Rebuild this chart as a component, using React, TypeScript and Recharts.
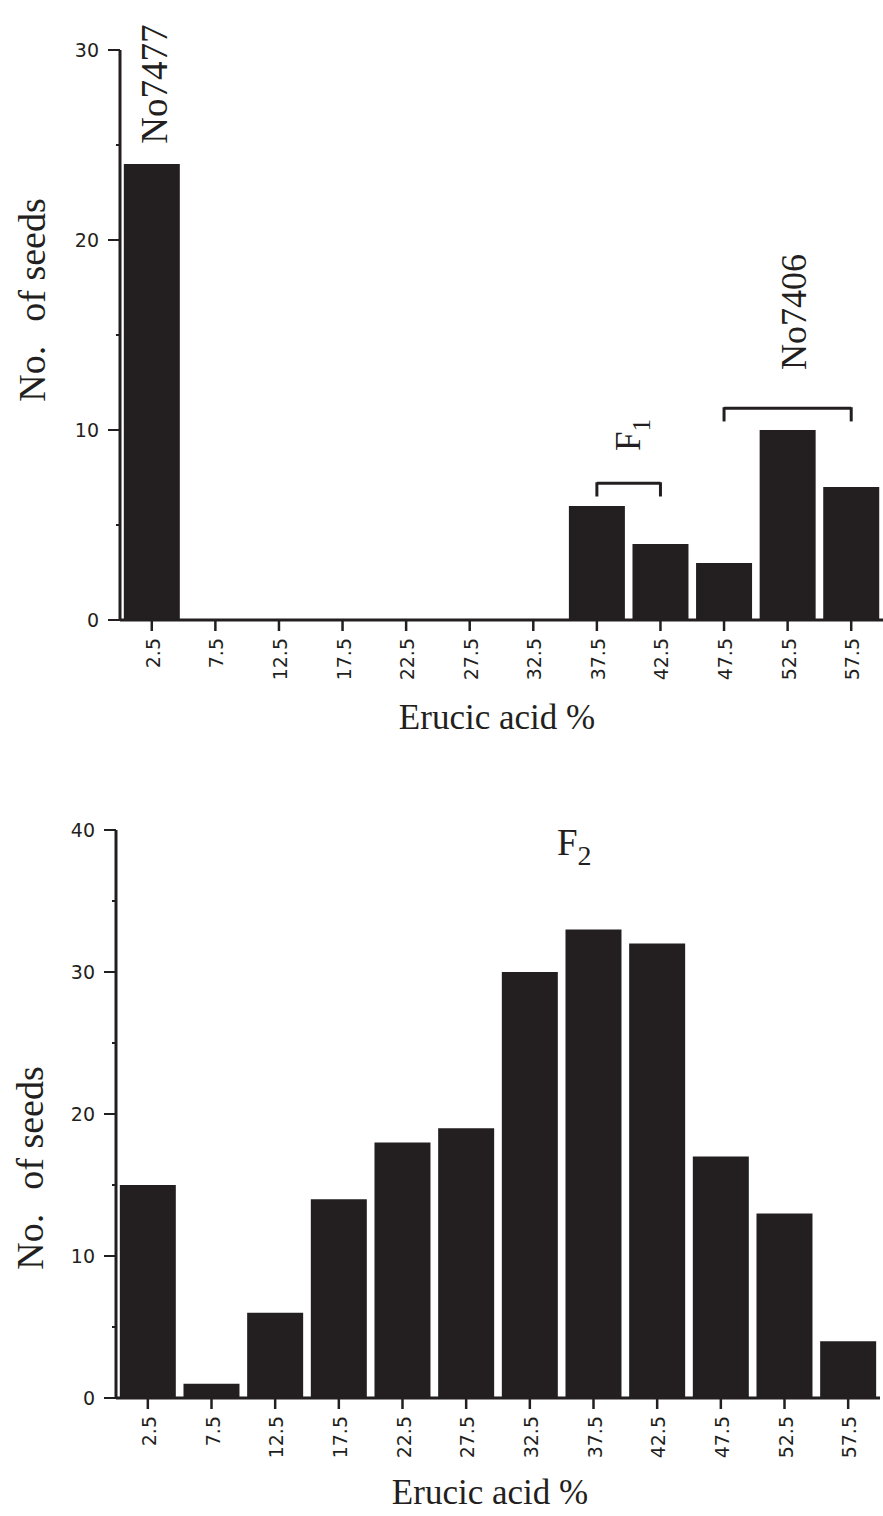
import { BarChart, Bar, XAxis, YAxis, ReferenceLine, Customized } from "recharts"

const bins = ["2.5", "7.5", "12.5", "17.5", "22.5", "27.5", "32.5", "37.5", "42.5", "47.5", "52.5", "57.5"]
const parentSeeds = [24, 0, 0, 0, 0, 0, 0, 6, 4, 3, 10, 7]
const f2Seeds = [15, 1, 6, 14, 18, 19, 30, 33, 32, 17, 13, 4]
const topTicks = [0, 5, 10, 15, 20, 25, 30]
const bottomTicks = [0, 5, 10, 15, 20, 25, 30, 35, 40]

const topData = bins.map((b, i) => ({ bin: b, seeds: parentSeeds[i] }))
const bottomData = bins.map((b, i) => ({ bin: b, seeds: f2Seeds[i] }))

const INK = "#231f20"
const SANS = "'DejaVu Sans', 'Liberation Sans', sans-serif"
const SERIF = "'Liberation Serif', 'Times New Roman', serif"

const YTick = (props: any) => {
  const { x, y, payload } = props
  const major = payload.value % 10 === 0
  return (
    <g>
      <line x1={x} x2={x - (major ? 12 : 4)} y1={y} y2={y} stroke={INK} strokeWidth={2} />
      {major && (
        <text x={x - 21} y={y + 7} textAnchor="end" fontFamily={SANS} fontSize={19} fill={INK}>
          {payload.value}
        </text>
      )}
    </g>
  )
}

const XTick = (props: any) => {
  const { x, y, payload } = props
  return (
    <g>
      <line x1={x} x2={x} y1={y} y2={y + 11} stroke={INK} strokeWidth={2.5} />
      <text
        x={x + 8}
        y={y + 18}
        transform={`rotate(-90 ${x + 8} ${y + 18})`}
        textAnchor="end"
        fontFamily={SANS}
        fontSize={19}
        fill={INK}
      >
        {payload.value}
      </text>
    </g>
  )
}

const TopLabels = () => (
  <g fill={INK} fontFamily={SERIF}>
    <text x={45} y={300} transform="rotate(-90 45 300)" textAnchor="middle" fontSize={38}>
      No.<tspan dx={24}>of seeds</tspan>
    </text>
    <text x={497} y={729} textAnchor="middle" fontSize={35}>
      Erucic acid %
    </text>
    <text x={167} y={84} transform="rotate(-90 167 84)" textAnchor="middle" fontSize={37}>
      No7477
    </text>
    <text x={806} y={312} transform="rotate(-90 806 312)" textAnchor="middle" fontSize={36}>
      No7406
    </text>
    <text x={640} y={451} transform="rotate(-90 640 451)" textAnchor="start" fontSize={35}>
      F<tspan dy={10} fontSize={25}>1</tspan>
    </text>
  </g>
)

const BottomLabels = () => (
  <g fill={INK} fontFamily={SERIF}>
    <text x={43} y={388} transform="rotate(-90 43 388)" textAnchor="middle" fontSize={38}>
      No.<tspan dx={24}>of seeds</tspan>
    </text>
    <text x={490} y={724} textAnchor="middle" fontSize={35}>
      Erucic acid %
    </text>
    <text x={557} y={75} fontSize={37}>
      F<tspan dy={10} fontSize={28}>2</tspan>
    </text>
  </g>
)

export default function App() {
  return (
    <div style={{ position: "absolute", left: 0, top: 0, width: 883, height: 1516, background: "#fff" }}>
      <div style={{ position: "absolute", left: 0, top: 0 }}>
        <BarChart width={883} height={760} data={topData} margin={{ top: 50, right: 0, left: 0, bottom: 0 }} barCategoryGap="6%">
          <XAxis
            dataKey="bin"
            height={140}
            tick={<XTick />}
            tickSize={0}
            tickMargin={0}
            tickLine={false}
            axisLine={{ stroke: INK, strokeWidth: 3 }}
            interval={0}
          />
          <YAxis
            width={120}
            domain={[0, 30]}
            ticks={topTicks}
            tick={<YTick />}
            tickSize={0}
            tickMargin={0}
            tickLine={false}
            axisLine={{ stroke: INK, strokeWidth: 3 }}
          />
          <Bar dataKey="seeds" fill={INK} isAnimationActive={false} />
          <ReferenceLine segment={[{ x: "37.5", y: 7.2 }, { x: "42.5", y: 7.2 }]} stroke={INK} strokeWidth={3} />
          <ReferenceLine segment={[{ x: "37.5", y: 7.25 }, { x: "37.5", y: 6.5 }]} stroke={INK} strokeWidth={3} />
          <ReferenceLine segment={[{ x: "42.5", y: 7.25 }, { x: "42.5", y: 6.5 }]} stroke={INK} strokeWidth={3} />
          <ReferenceLine segment={[{ x: "47.5", y: 11.15 }, { x: "57.5", y: 11.15 }]} stroke={INK} strokeWidth={3} />
          <ReferenceLine segment={[{ x: "47.5", y: 11.2 }, { x: "47.5", y: 10.45 }]} stroke={INK} strokeWidth={3} />
          <ReferenceLine segment={[{ x: "57.5", y: 11.2 }, { x: "57.5", y: 10.45 }]} stroke={INK} strokeWidth={3} />
          <Customized component={TopLabels} />
        </BarChart>
      </div>
      <div style={{ position: "absolute", left: 0, top: 780 }}>
        <BarChart width={883} height={736} data={bottomData} margin={{ top: 50, right: 3, left: 0, bottom: 0 }} barCategoryGap="6%">
          <XAxis
            dataKey="bin"
            height={118}
            tick={<XTick />}
            tickSize={0}
            tickMargin={0}
            tickLine={false}
            axisLine={{ stroke: INK, strokeWidth: 3 }}
            interval={0}
          />
          <YAxis
            width={116}
            domain={[0, 40]}
            ticks={bottomTicks}
            tick={<YTick />}
            tickSize={0}
            tickMargin={0}
            tickLine={false}
            axisLine={{ stroke: INK, strokeWidth: 3 }}
          />
          <Bar dataKey="seeds" fill={INK} isAnimationActive={false} />
          <Customized component={BottomLabels} />
        </BarChart>
      </div>
    </div>
  )
}
